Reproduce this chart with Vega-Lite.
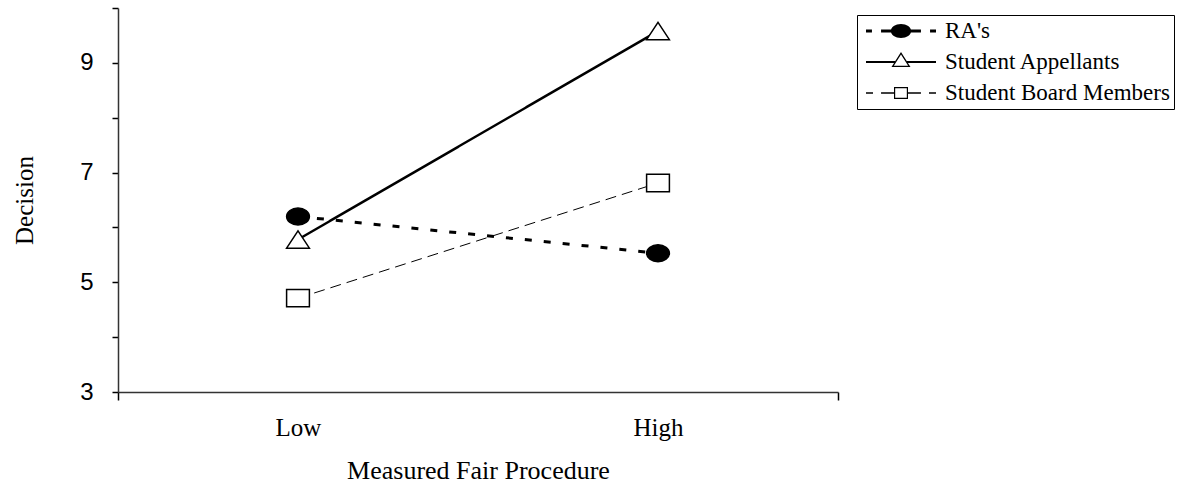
{
  "$schema": "https://vega.github.io/schema/vega-lite/v6.json",
  "width": 720,
  "height": 384,
  "autosize": {"type": "none"},
  "padding": {"left": 118, "top": 8, "right": 350, "bottom": 96},
  "background": "white",
  "config": {"view": {"stroke": null}},
  "data": {
    "values": [
      {"series": "RA's", "level": "Low", "decision": 6.20},
      {"series": "RA's", "level": "High", "decision": 5.53},
      {"series": "Student Appellants", "level": "Low", "decision": 5.78},
      {"series": "Student Appellants", "level": "High", "decision": 9.58},
      {"series": "Student Board Members", "level": "Low", "decision": 4.71},
      {"series": "Student Board Members", "level": "High", "decision": 6.81}
    ]
  },
  "encoding": {
    "x": {
      "field": "level", "type": "nominal", "sort": ["Low", "High"],
      "bandPosition": 0.5,
      "scale": {"type": "band", "paddingInner": 0, "paddingOuter": 0},
      "axis": {
        "title": "Measured Fair Procedure",
        "titleFont": "Liberation Serif", "titleFontSize": 26, "titleFontWeight": "normal", "titleColor": "black",
        "titlePadding": 17,
        "labelFont": "Liberation Serif", "labelFontSize": 25, "labelColor": "black", "labelAngle": 0,
        "labelPadding": 15,
        "tickBand": "extent", "tickSize": 8, "tickWidth": 1.5,
        "tickColor": {"condition": {"test": "datum.value === 'Low'", "value": "transparent"}, "value": "black"},
        "domainColor": "#333", "domainWidth": 1.5, "grid": false
      }
    },
    "y": {
      "field": "decision", "type": "quantitative",
      "scale": {"domain": [3, 10], "nice": false, "zero": false},
      "axis": {
        "title": "Decision",
        "titleFont": "Liberation Serif", "titleFontSize": 25, "titleFontWeight": "normal", "titleColor": "black",
        "titlePadding": 42,
        "values": [3, 4, 5, 6, 7, 8, 9, 10],
        "labelExpr": "datum.value % 2 === 1 ? datum.label : ''",
        "labelFont": "Liberation Sans", "labelFontSize": 24, "labelColor": "black", "labelPadding": 19,
        "tickSize": 6, "tickColor": "black", "tickWidth": 1.5,
        "domainColor": "#333", "domainWidth": 1.5, "grid": false
      }
    }
  },
  "layer": [
    {
      "mark": {"type": "line", "color": "black"},
      "encoding": {
        "detail": {"field": "series"},
        "strokeWidth": {
          "condition": [
            {"test": "datum.series === \"RA's\"", "value": 3},
            {"test": "datum.series === 'Student Appellants'", "value": 2.5}
          ],
          "value": 1
        },
        "strokeDash": {
          "condition": [
            {"test": "datum.series === \"RA's\"", "value": [7, 12]},
            {"test": "datum.series === 'Student Appellants'", "value": [1, 0]}
          ],
          "value": [11, 6]
        }
      }
    },
    {
      "mark": {"type": "point", "filled": true, "stroke": "black", "strokeWidth": 1.5, "opacity": 1, "size": 520},
      "encoding": {
        "shape": {
          "condition": [
            {"test": "datum.series === \"RA's\"", "value": "M-1,0A1,0.74 0 1,1 1,0A1,0.74 0 1,1 -1,0Z"},
            {"test": "datum.series === 'Student Appellants'", "value": "M-1,0.76L0,-0.76L1,0.76Z"}
          ],
          "value": "M-1,-0.76H1V0.76H-1Z"
        },
        "fill": {
          "condition": {"test": "datum.series === \"RA's\"", "value": "black"},
          "value": "white"
        }
      }
    },
    {
      "mark": {"type": "point", "filled": true, "color": "black", "opacity": 0},
      "encoding": {
        "shape": {
          "field": "series", "type": "nominal",
          "scale": {
            "domain": ["RA's", "Student Appellants", "Student Board Members"],
            "range": [
              "M-1,-0.043H-0.83V0.043H-1Z M-0.57,-0.043H-0.28V0.043H-0.57Z M0.28,-0.043H0.57V0.043H0.28Z M0.83,-0.043H1V0.043H0.83Z M-0.29,0A0.29,0.2 0 1,1 0.29,0A0.29,0.2 0 1,1 -0.29,0Z",
              "M-1,-0.026H-0.17V0.026H-1Z M0.17,-0.026H1V0.026H0.17Z M0,-0.286L0.271,0.143L-0.271,0.143Z M0,-0.216L-0.204,0.106L0.204,0.106Z",
              "M-1,-0.022H-0.8V0.022H-1Z M-0.57,-0.022H-0.2V0.022H-0.57Z M0.2,-0.022H0.57V0.022H0.2Z M0.8,-0.022H1V0.022H0.8Z M-0.2,-0.171H0.2V0.171H-0.2Z M-0.166,-0.137V0.137H0.166V-0.137Z"
            ]
          },
          "legend": {
            "title": null, "orient": "none", "legendX": 739, "legendY": 7,
            "strokeColor": "black", "fillColor": "white", "padding": 4,
            "symbolSize": 4900, "symbolOffset": 5, "labelOffset": 9, "rowPadding": 7, "clipHeight": 24,
            "symbolOpacity": 1, "symbolFillColor": "black", "symbolStrokeWidth": 0,
            "labelFont": "Liberation Serif", "labelFontSize": 23, "labelColor": "black", "labelLimit": 0
          }
        }
      }
    }
  ]
}
